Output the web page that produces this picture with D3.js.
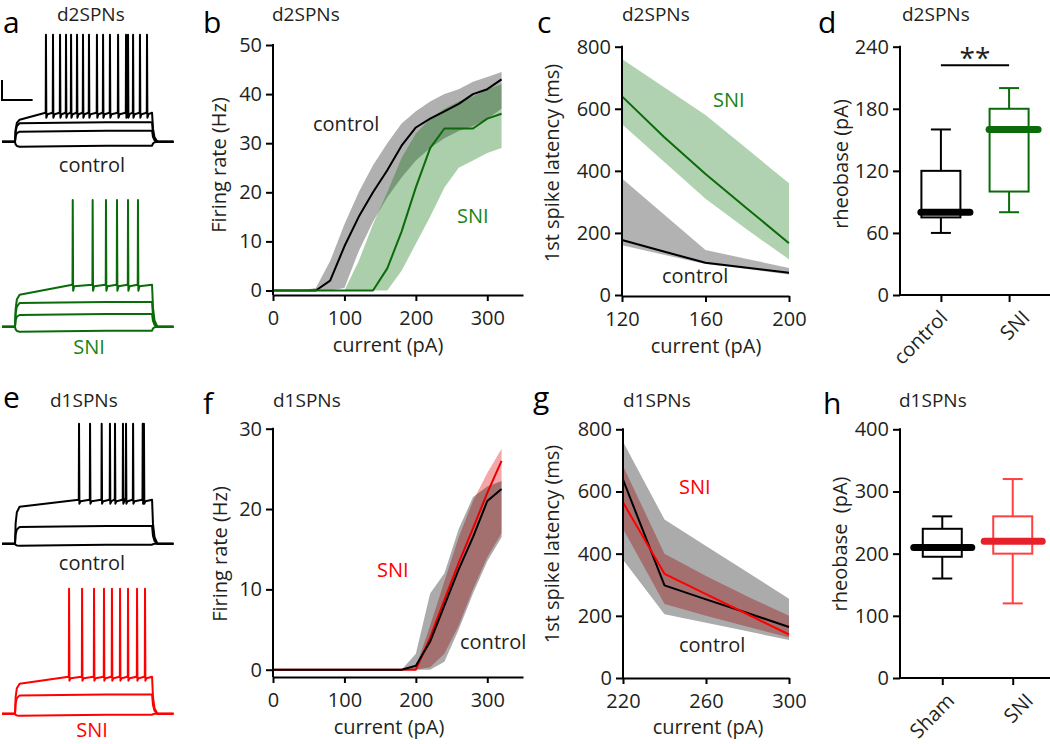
<!DOCTYPE html>
<html><head><meta charset="utf-8">
<script src="https://cdn.jsdelivr.net/npm/d3@7"></script>
<style>body{margin:0;background:#fff} svg{display:block}</style>
</head><body><script>
// ================= DATA =================
// panel b : d2SPNs firing rate vs current
const bCurrent = [0,20,40,60,80,100,120,140,160,180,200,220,240,260,280,300,320];
const bControlMean  = [0,0,0,0,2,9,15,20,24.5,29.5,33.2,35,36.5,38,40,41,43];
const bControlUpper = [0,0,0,0.5,6,13.5,20,25.5,30,34,36.5,38.5,40,41,42.5,43.5,44.5];
const bControlLower = [0,0,0,0,0,0.5,8,14,19,23,26.5,29,31,32.5,33.5,35,37];
const bSniMean  = [0,0,0,0,0,0,0,0,4.5,12,21,29,33,33,33,35,36];
const bSniUpper = [0,0,0,0,0,0,6,13.5,20,27,32,35,37,38.5,39.5,41,42];
const bSniLower = [0,0,0,0,0,0,0,0,0,4,9.5,15,21,25,26.5,28,29];
const bXTicks = [0,100,200,300];
const bYTicks = [0,10,20,30,40,50];
// panel c : d2SPNs 1st spike latency
const cCurrent = [120,140,160,180,200];
const cSniMean  = [640,510,390,278,167];
const cSniUpper = [760,670,580,470,360];
const cSniLower = [550,430,310,210,115];
const cControlMean  = [177,140,104,88,72];
const cControlUpper = [375,260,145,116,87];
const cControlLower = [160,130,100,84,66];
const cXTicks = [120,160,200];
const cYTicks = [0,200,400,600,800];
// panel d : d2SPNs rheobase box plot
const dGroups = ["control","SNI"];
const dMin = [60,80], dQ1 = [75,100], dMedian = [80,160], dQ3 = [120,180], dMax = [160,200];
const dYTicks = [0,60,120,180,240];
const dSignificance = "**";
// panel f : d1SPNs firing rate
const fCurrent = [0,20,40,60,80,100,120,140,160,180,200,220,240,260,280,300,320];
const fControlMean  = [0,0,0,0,0,0,0,0,0,0,0.5,3.5,8,12.5,16.5,21,22.5];
const fControlUpper = [0,0,0,0,0,0,0,0,0,0,2,9.5,12,17.5,21.5,22.8,23.5];
const fControlLower = [0,0,0,0,0,0,0,0,0,0,0,0,1,5,9.5,13.5,16.5];
const fSniMean  = [0,0,0,0,0,0,0,0,0,0,0,4,8.7,13.3,17.6,22,26];
const fSniUpper = [0,0,0,0,0,0,0,0,0,0,0.3,5.5,11,16.5,21,24.5,27.5];
const fSniLower = [0,0,0,0,0,0,0,0,0,0,0,0.3,2,5.5,10,14,17];
const fXTicks = [0,100,200,300];
const fYTicks = [0,10,20,30];
// panel g : d1SPNs 1st spike latency
const gCurrent = [220,240,260,280,300];
const gControlMean  = [638,298,253,209,164];
const gControlUpper = [760,510,425,340,255];
const gControlLower = [380,205,178,150,122];
const gSniMean  = [565,335,270,205,140];
const gSniUpper = [682,400,328,262,200];
const gSniLower = [480,238,200,165,130];
const gXTicks = [220,260,300];
const gYTicks = [0,200,400,600,800];
// panel h : d1SPNs rheobase box plot
const hGroups = ["Sham","SNI"];
const hMin = [160,120], hQ1 = [195,200], hMedian = [210,220], hQ3 = [240,260], hMax = [260,320];
const hYTicks = [0,100,200,300,400];
// example traces (a, e): step timing (ms), step levels (mV), spike times (ms)
const traceStepOn = 85, traceStepOff = 980, traceEnd = 1120;
const scaleBarMs = 200, scaleBarMv = 20;
const aControlLevels = [-85,-70,-61.5];
const aControlSpiking = [-58,-51,-56,27];      // start, plateau, AHP trough, peak
const aControlSpikes = [287,333,379,418,451,490,529,568,620,660,705,758,810,823,856,901,947];
const aSniLevels = [-85,-68.3,-56.3];
const aSniSpiking = [-48,-38,-44,46.7];
const aSniSpikes = [462,592,679,751,823,888];
const eControlLevels = [-82,-63.3];
const eControlSpiking = [-43,-36,-40,40];
const eControlSpikes = [503,575,651,705,738,790,810,856,919,927];
const eSniLevels = [-82,-61.7];
const eSniSpiking = [-50,-43,-47,45];
const eSniSpikes = [438,523,601,666,718,771,823,882,934];

// ================= DRAWING =================
const FONT = "'Open Sans', sans-serif";
const TXT = "#231f20";
const GREEN = "#0b6b0b", GREEN_TXT = "#188418", RED = "#e80000";
const svg = d3.select("body").append("svg").attr("width",1050).attr("height",744)
  .style("background","#fff").attr("font-family",FONT);

function text(x,y,str,opt={}){
  const t = svg.append("text").attr("x",x).attr("y",y).text(str)
    .attr("font-size",opt.size||20).attr("fill",opt.color||TXT)
    .attr("text-anchor",opt.anchor||"start");
  if(opt.rotate){ t.attr("x",0).attr("y",0).attr("dy","0.35em")
    .attr("transform",`translate(${x},${y}) rotate(-90)`); }
  if(opt.pre) t.style("white-space","pre");
  return t;
}
function styleAxis(g){
  g.attr("font-size",20).attr("font-family",FONT).attr("color","#000");
  g.selectAll("line").attr("stroke-width",2);
  g.selectAll("path").attr("stroke-width",2);
  g.selectAll("text").attr("fill",TXT);
}

function linePanel(o){
  const x = d3.scaleLinear().domain(o.xDomain).range(o.xRange);
  const y = d3.scaleLinear().domain(o.yDomain).range(o.yRange);
  const g = svg.append("g");
  o.bands.forEach(b=>{
    g.append("path").datum(d3.zip(o.xs,b.lo,b.hi))
      .attr("d",d3.area().x(d=>x(d[0])).y0(d=>y(d[1])).y1(d=>y(d[2])))
      .attr("fill",b.fill).attr("fill-opacity",b.op).attr("stroke","none");
  });
  o.lines.forEach(l=>{
    g.append("path").datum(d3.zip(o.xs,l.v))
      .attr("d",d3.line().x(d=>x(d[0])).y(d=>y(d[1])))
      .attr("fill","none").attr("stroke",l.color).attr("stroke-width",2).attr("stroke-linejoin","round");
  });
  const ya = g.append("g").attr("transform",`translate(${o.xRange[0]},0)`)
    .call(d3.axisLeft(y).tickValues(o.yTicks).tickSize(7).tickPadding(4).tickSizeOuter(0));
  ya.select(".domain").remove();
  styleAxis(ya);
  g.append("line").attr("x1",o.xRange[0]).attr("x2",o.xRange[0])
    .attr("y1",y(o.yDomain[1])-1).attr("y2",o.xAxisY).attr("stroke","#000").attr("stroke-width",2);
  const xa = g.append("g").attr("transform",`translate(0,${o.xAxisY})`)
    .call(d3.axisBottom(x).tickValues(o.xTicks).tickSize(6).tickPadding(10).tickSizeOuter(0));
  styleAxis(xa);
  return {x,y};
}

function boxPanel(o){
  const x = d3.scalePoint().domain(o.groups).range(o.xRange).padding(0.6);
  const y = d3.scaleLinear().domain(o.yDomain).range(o.yRange);
  const g = svg.append("g");
  o.groups.forEach((grp,i)=>{
    const cx = x(grp), c = o.colors[i];
    const ln = (x1,y1,x2,y2,w,col,cap)=>g.append("line").attr("x1",x1).attr("y1",y1).attr("x2",x2).attr("y2",y2)
       .attr("stroke",col).attr("stroke-width",w).attr("stroke-linecap",cap||"butt");
    ln(cx,y(o.max[i]),cx,y(o.q3[i]),2,c);
    ln(cx,y(o.q1[i]),cx,y(o.min[i]),2,c);
    ln(cx-10,y(o.max[i]),cx+10,y(o.max[i]),2,c);
    ln(cx-10,y(o.min[i]),cx+10,y(o.min[i]),2,c);
    g.append("rect").attr("x",cx-19.5).attr("y",y(o.q3[i])).attr("width",39)
      .attr("height",y(o.q1[i])-y(o.q3[i])).attr("fill","none").attr("stroke",c).attr("stroke-width",2);
    ln(cx+o.medExt[0],y(o.median[i]),cx+o.medExt[1],y(o.median[i]),7,o.medColors[i],"round");
  });
  const ya = g.append("g").attr("transform",`translate(${o.xRange[0]},0)`)
    .call(d3.axisLeft(y).tickValues(o.yTicks).tickSize(7).tickPadding(4).tickSizeOuter(0));
  ya.select(".domain").remove();
  styleAxis(ya);
  g.append("line").attr("x1",o.xRange[0]).attr("x2",o.xRange[0])
    .attr("y1",o.yRange[1]-1).attr("y2",o.yRange[0]+1).attr("stroke","#000").attr("stroke-width",2);
  const xa = g.append("g").attr("transform",`translate(0,${o.yRange[0]})`)
    .call(d3.axisBottom(x).tickSize(7).tickSizeOuter(0));
  styleAxis(xa);
  xa.select(".domain").attr("d",`M${o.xRange[0]},0H1050`);
  xa.selectAll(".tick text").attr("x",0).attr("y",0).attr("dy",0)
    .attr("text-anchor","end")
    .attr("transform",function(){ const L=this.getComputedTextLength(); return `translate(${34-0.4*L},24) rotate(-45)`; });
  return {x,y};
}

function traces(o){
  const t = d3.scaleLinear().domain([0,traceEnd]).range([2,173.5]);
  const v = d3.scaleLinear().domain([-80,40]).range([o.base,o.base-120]);
  const line = d3.line().x(d=>t(d[0])).y(d=>v(d[1])).curve(d3.curveLinear);
  const rise = (lvl)=>[[0,-80],[traceStepOn,-80],[traceStepOn+4,-80+(lvl+80)*0.55],[traceStepOn+12,-80+(lvl+80)*0.85],[traceStepOn+30,lvl]];
  const fall = (lvl)=>[[traceStepOff,lvl],[traceStepOff+6,-80+(lvl+80)*0.45],[traceStepOff+16,-80+(lvl+80)*0.15],[traceStepOff+35,-80],[traceEnd,-80]];
  const paths = [];
  o.levels.forEach(l=>{ paths.push(rise(l).concat([[traceStepOn+300,l+0.5],[traceStepOn+600,l+1]]).concat(fall(l+1))); });
  const [st,pl,tr,pk] = o.spiking;
  let p = rise(st);
  p.push([o.spikes[0]-3,pl]);
  o.spikes.forEach((s,i)=>{
    p.push([s-1.5,pl+2],[s,pk],[s+2.5,tr],[s+10,pl-1.5]);
    const nxt = o.spikes[i+1];
    if(nxt && nxt-s>25) p.push([nxt-3,pl]);
  });
  p = p.concat(fall(pl));
  paths.push(p);
  paths.forEach(pp=>svg.append("path").datum(pp).attr("d",line).attr("fill","none")
    .attr("stroke",o.color).attr("stroke-width",2).attr("stroke-linejoin","round"));
  if(o.scaleBar){
    const y0 = -80 + (o.base-100);
    svg.append("path").datum([[0,y0+scaleBarMv],[0,y0],[scaleBarMs,y0]]).attr("d",line)
      .attr("fill","none").attr("stroke","#000").attr("stroke-width",2);
  }
}

// ---- panel letters & titles
[["a",3,33],["b",203,33],["c",537,33],["d",818,33],["e",3,408],["f",203,414],["g",533,408],["h",823,414]]
  .forEach(([s,x,y])=>text(x,y,s,{size:30,color:"#000"}));
[["d2SPNs",57,21],["d2SPNs",272,21],["d2SPNs",622,21],["d2SPNs",902,21],
 ["d1SPNs",50,407],["d1SPNs",273,407],["d1SPNs",623,407],["d1SPNs",899,407]]
  .forEach(([s,x,y])=>text(x,y,s,{size:19}));

// ---- panel a traces
traces({base:141.7,color:"#000",levels:aControlLevels,spiking:aControlSpiking,spikes:aControlSpikes,scaleBar:true});
text(92,172,"control",{anchor:"middle"});
traces({base:326.7,color:GREEN,levels:aSniLevels,spiking:aSniSpiking,spikes:aSniSpikes});
text(89,354,"SNI",{anchor:"middle",color:GREEN_TXT});

// ---- panel b
linePanel({xs:bCurrent,xDomain:[0,350],xRange:[273,523],yDomain:[0,50],yRange:[290.5,45],xAxisY:295,
  xTicks:bXTicks,yTicks:bYTicks,
  bands:[{lo:bControlLower,hi:bControlUpper,fill:"#b0b0b0",op:1},
         {lo:bSniLower,hi:bSniUpper,fill:"#006e00",op:0.33}],
  lines:[{v:bControlMean,color:"#000"},{v:bSniMean,color:GREEN}]});
text(219,165,"Firing rate (Hz)",{anchor:"middle",rotate:true});
text(388,352,"current (pA)",{anchor:"middle"});
text(313,131,"control");
text(457,223,"SNI",{color:GREEN_TXT});

// ---- panel c
linePanel({xs:cCurrent,xDomain:[120,200],xRange:[622,789],yDomain:[0,800],yRange:[295,46.7],xAxisY:296,
  xTicks:cXTicks,yTicks:cYTicks,
  bands:[{lo:cSniLower,hi:cSniUpper,fill:"#006e00",op:0.31},
         {lo:cControlLower,hi:cControlUpper,fill:"#000",op:0.3}],
  lines:[{v:cSniMean,color:GREEN},{v:cControlMean,color:"#000"}]});
text(552,163,"1st spike latency (ms)",{anchor:"middle",rotate:true});
text(706,353,"current (pA)",{anchor:"middle"});
text(713,107,"SNI",{color:GREEN_TXT});
text(662,283,"control");

// ---- panel d
const dS = boxPanel({groups:dGroups,min:dMin,q1:dQ1,median:dMedian,q3:dQ3,max:dMax,
  xRange:[900,1050],yDomain:[0,240],yRange:[295,46.7],yTicks:dYTicks,
  colors:["#000",GREEN],medColors:["#000",GREEN],medExt:[-20,29]});
svg.append("line").attr("x1",dS.x("control")).attr("x2",dS.x("SNI")).attr("y1",dS.y(222)).attr("y2",dS.y(222))
  .attr("stroke","#000").attr("stroke-width",2);
text((dS.x("control")+dS.x("SNI"))/2,dS.y(222)+3,dSignificance,{anchor:"middle",size:28});
text(841,164,"rheobase (pA)",{anchor:"middle",rotate:true});

// ---- panel e traces
traces({base:543.7,color:"#000",levels:eControlLevels,spiking:eControlSpiking,spikes:eControlSpikes});
text(92,570,"control",{anchor:"middle"});
traces({base:713.7,color:"#ff0000",levels:eSniLevels,spiking:eSniSpiking,spikes:eSniSpikes});
text(92,737,"SNI",{anchor:"middle",color:"#ff0000"});

// ---- panel f
linePanel({xs:fCurrent,xDomain:[0,350],xRange:[273,523],yDomain:[0,30],yRange:[669.7,428.7],xAxisY:677,
  xTicks:fXTicks,yTicks:fYTicks,
  bands:[{lo:fSniLower,hi:fSniUpper,fill:"#e20000",op:0.35},
         {lo:fControlLower,hi:fControlUpper,fill:"#000",op:0.33}],
  lines:[{v:fSniMean,color:RED},{v:fControlMean,color:"#000"}]});
text(220,554,"Firing rate (Hz)",{anchor:"middle",rotate:true});
text(389,734,"current (pA)",{anchor:"middle"});
text(377,577,"SNI",{color:"#ff0000"});
text(460,649,"control");

// ---- panel g
linePanel({xs:gCurrent,xDomain:[220,300],xRange:[623,789],yDomain:[0,800],yRange:[678,429.3],xAxisY:678,
  xTicks:gXTicks,yTicks:gYTicks,
  bands:[{lo:gSniLower,hi:gSniUpper,fill:"#e20000",op:0.35},
         {lo:gControlLower,hi:gControlUpper,fill:"#000",op:0.33}],
  lines:[{v:gControlMean,color:"#000"},{v:gSniMean,color:"#ff0000"}]});
text(552,544,"1st spike latency (ms)",{anchor:"middle",rotate:true});
text(708,734,"current (pA)",{anchor:"middle"});
text(679,494,"SNI",{color:"#ff0000"});
text(679,652,"control");

// ---- panel h
boxPanel({groups:hGroups,min:hMin,q1:hQ1,median:hMedian,q3:hQ3,max:hMax,
  xRange:[900,1055],yDomain:[0,400],yRange:[678,429.3],yTicks:hYTicks,
  colors:["#000","#ff4040"],medColors:["#000","#e8202a"],medExt:[-28.5,29.5]});
text(840,544,"rheobase  (pA)",{anchor:"middle",rotate:true,pre:true});
</script></body></html>
